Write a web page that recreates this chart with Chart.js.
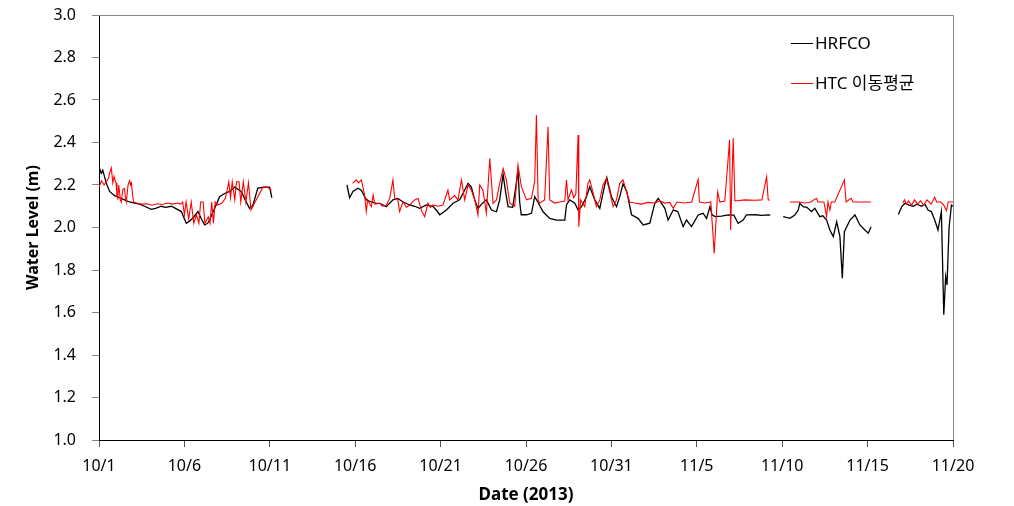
<!DOCTYPE html>
<html>
<head>
<meta charset="utf-8">
<script src="https://cdn.jsdelivr.net/npm/chart.js@4.4.0/dist/chart.umd.min.js"></script>
<style>
  html, body { margin: 0; padding: 0; background: #fff; }
  #wrap { width: 1014px; height: 506px; }
</style>
</head>
<body>
<div id="wrap"><canvas id="levelChart" width="1014" height="506"></canvas></div>
<script>
  // Hourly water levels, thinned by eye. x = days after 10/1, y = level (m).
  // [day, null] breaks the line where the record has gaps.
  var hrfco = [
    [0.00,2.285],[0.13,2.255],[0.22,2.27],[0.42,2.21],[0.62,2.17],[0.91,2.15],[1.20,2.14],[1.49,2.13],[1.79,2.12],[2.08,2.115],
    [2.37,2.11],[2.67,2.10],[3.06,2.085],[3.31,2.09],[3.64,2.10],[3.90,2.095],[4.23,2.10],[4.48,2.09],[4.82,2.075],[4.95,2.05],
    [5.11,2.02],[5.30,2.03],[5.50,2.045],[5.79,2.075],[6.00,2.04],[6.18,2.012],[6.36,2.02],[6.47,2.035],[6.77,2.09],[7.06,2.145],
    [7.35,2.16],[7.65,2.17],[7.94,2.19],[8.33,2.17],[8.62,2.12],[8.82,2.09],[9.01,2.105],[9.30,2.185],[9.69,2.19],[9.99,2.19],[10.12,2.14],
    [10.3,null],
    [14.52,2.20],[14.67,2.14],[14.87,2.17],[15.16,2.185],[15.36,2.175],[15.65,2.13],[15.95,2.12],[16.20,2.115],[16.43,2.114],[16.82,2.098],
    [17.21,2.13],[17.50,2.137],[17.80,2.12],[18.19,2.106],[18.48,2.10],[18.78,2.09],[19.17,2.106],[19.56,2.098],[19.77,2.08],[19.95,2.06],
    [20.34,2.082],[20.73,2.114],[21.12,2.13],[21.41,2.176],[21.61,2.208],[21.80,2.19],[22.00,2.13],[22.19,2.09],[22.40,2.11],[22.68,2.13],
    [22.98,2.082],[23.27,2.074],[23.46,2.13],[23.66,2.25],[23.80,2.17],[23.95,2.098],[24.22,2.095],[24.40,2.19],[24.53,2.27],[24.63,2.12],[24.72,2.06],
    [25.03,2.06],[25.32,2.067],[25.51,2.145],[25.69,2.12],[26.00,2.074],[26.39,2.043],[26.78,2.035],[27.27,2.035],[27.37,2.106],[27.56,2.13],
    [27.86,2.114],[28.05,2.082],[28.25,2.098],[28.54,2.145],[28.73,2.192],[29.03,2.13],[29.32,2.09],[29.61,2.20],[29.73,2.235],[30.00,2.145],
    [30.30,2.098],[30.49,2.145],[30.68,2.205],[30.90,2.17],[31.18,2.06],[31.56,2.043],[31.86,2.012],[32.25,2.02],[32.54,2.114],[32.74,2.137],
    [33.13,2.09],[33.32,2.035],[33.62,2.082],[33.89,2.075],[34.20,2.004],[34.40,2.035],[34.69,2.004],[35.08,2.059],[35.37,2.067],[35.57,2.043],
    [35.77,2.098],[35.89,2.06],[36.07,2.051],[36.45,2.054],[36.84,2.059],[37.17,2.058],[37.42,2.02],[37.71,2.035],[37.91,2.059],[38.40,2.06],
    [38.81,2.057],[39.18,2.059],[39.30,2.058],
    [39.6,null],
    [40.06,2.051],[40.45,2.043],[40.74,2.059],[40.94,2.082],[41.03,2.114],[41.22,2.098],[41.44,2.095],[41.72,2.075],[41.91,2.09],[42.20,2.051],
    [42.38,2.055],[42.60,2.035],[42.79,1.988],[42.99,1.957],[43.19,2.027],[43.38,1.957],[43.52,1.761],[43.64,1.98],[43.97,2.035],[44.26,2.059],
    [44.55,2.012],[44.84,1.988],[45.04,1.973],[45.20,2.004],
    [45.5,null],
    [46.80,2.061],[47.00,2.098],[47.19,2.114],[47.42,2.105],[47.67,2.10],[47.89,2.11],[48.16,2.10],[48.35,2.11],[48.54,2.082],[48.73,2.075],
    [48.93,2.035],[49.12,1.988],[49.32,2.075],[49.46,1.59],[49.57,1.77],[49.65,1.73],[49.77,2.0],[49.91,2.106],[50.00,2.10]
  ];

  var htc = [
    [0.00,2.19],[0.15,2.22],[0.30,2.20],[0.42,2.215],[0.55,2.23],[0.62,2.255],[0.72,2.28],[0.81,2.21],[0.88,2.24],[0.95,2.22],
    [1.00,2.21],[1.05,2.15],[1.10,2.137],[1.15,2.20],[1.20,2.17],[1.25,2.13],[1.30,2.12],[1.40,2.18],[1.49,2.184],[1.55,2.14],
    [1.60,2.12],[1.70,2.20],[1.79,2.22],[1.85,2.20],[1.90,2.21],[1.97,2.15],[2.03,2.12],[2.20,2.115],[2.50,2.11],[2.80,2.112],
    [3.10,2.105],[3.40,2.112],[3.70,2.108],[4.00,2.115],[4.30,2.11],[4.60,2.115],[4.80,2.11],[4.90,2.12],[5.00,2.06],[5.10,2.12],
    [5.25,2.04],[5.40,2.12],[5.55,2.02],[5.70,2.06],[5.85,2.02],[5.95,2.12],[6.10,2.12],[6.20,2.02],[6.40,2.05],[6.50,2.02],
    [6.60,2.12],[6.70,2.02],[6.80,2.12],[6.95,2.106],[7.20,2.115],[7.40,2.137],[7.60,2.215],[7.70,2.14],[7.80,2.215],[7.95,2.13],
    [8.05,2.215],[8.20,2.215],[8.30,2.12],[8.45,2.215],[8.60,2.12],[8.75,2.21],[8.90,2.082],[9.10,2.114],[9.30,2.145],[9.60,2.19],
    [9.85,2.19],[10.10,2.175],
    [10.3,null],
    [14.85,2.208],[15.07,2.224],[15.20,2.21],[15.36,2.224],[15.55,2.153],[15.65,2.075],[15.73,2.13],[15.95,2.098],[16.05,2.153],[16.15,2.11],
    [16.43,2.114],[16.60,2.10],[16.82,2.105],[17.02,2.137],[17.21,2.224],[17.31,2.137],[17.50,2.13],[17.60,2.075],[17.80,2.12],[18.00,2.095],
    [18.19,2.106],[18.48,2.13],[18.68,2.137],[18.88,2.08],[19.07,2.051],[19.26,2.114],[19.40,2.095],[19.56,2.106],[19.83,2.10],[20.14,2.106],
    [20.43,2.176],[20.53,2.13],[20.82,2.15],[21.02,2.13],[21.22,2.224],[21.41,2.13],[21.61,2.20],[21.80,2.176],[22.00,2.13],[22.19,2.059],
    [22.29,2.20],[22.48,2.176],[22.68,2.067],[22.88,2.326],[23.07,2.114],[23.27,2.13],[23.46,2.208],[23.66,2.278],[23.85,2.224],[24.05,2.114],
    [24.34,2.10],[24.53,2.294],[24.73,2.192],[25.03,2.13],[25.32,2.137],[25.51,2.216],[25.61,2.529],[25.71,2.13],[25.80,2.114],[26.09,2.13],
    [26.29,2.474],[26.39,2.13],[26.68,2.115],[26.97,2.12],[27.27,2.125],[27.37,2.224],[27.46,2.13],[27.66,2.176],[27.80,2.14],[27.92,2.16],
    [28.05,2.435],[28.09,2.004],[28.20,2.13],[28.44,2.098],[28.63,2.208],[28.73,2.224],[28.91,2.17],[29.12,2.098],[29.32,2.13],[29.51,2.20],
    [29.71,2.23],[29.90,2.17],[30.10,2.098],[30.30,2.13],[30.49,2.208],[30.68,2.224],[30.88,2.17],[31.07,2.12],[31.36,2.115],[31.76,2.11],
    [32.13,2.118],[32.54,2.115],[32.83,2.125],[33.13,2.115],[33.42,2.118],[33.62,2.09],[33.84,2.12],[34.30,2.115],[34.70,2.12],[35.08,2.227],
    [35.15,2.12],[35.47,2.115],[35.82,2.12],[36.02,1.878],[36.22,2.168],[36.35,2.12],[36.64,2.125],[36.92,2.412],[36.98,1.988],[37.13,2.42],
    [37.23,2.125],[37.81,2.13],[38.40,2.128],[38.81,2.13],[39.09,2.239],[39.18,2.13],[39.28,2.128],
    [39.6,null],
    [40.45,2.12],[41.03,2.12],[41.32,2.115],[41.61,2.118],[42.01,2.137],[42.09,2.12],[42.44,2.12],[42.60,2.051],[42.68,2.12],[42.79,2.082],
    [42.88,2.12],[43.08,2.12],[43.64,2.224],[43.74,2.12],[44.04,2.137],[44.15,2.12],[45.20,2.12],
    [45.5,null],
    [47.06,2.114],[47.16,2.13],[47.27,2.11],[47.39,2.125],[47.57,2.105],[47.75,2.13],[47.92,2.11],[48.11,2.125],[48.28,2.105],[48.48,2.13],
    [48.72,2.11],[48.93,2.142],[49.04,2.12],[49.28,2.12],[49.46,2.105],[49.62,2.08],[49.72,2.12],[50.00,2.12]
  ];

  var dateLabels = ["10/1", "10/6", "10/11", "10/16", "10/21", "10/26", "10/31", "11/5", "11/10", "11/15", "11/20"];

  var FONT = "'Noto Sans', 'Noto Sans CJK KR', sans-serif";
  var FRAME = "#868686";

  function toXY(list) {
    return list.map(function (p) { return { x: p[0], y: p[1] }; });
  }

  // Excel-style plot frame: grey top and right edges.
  var framePlugin = {
    id: "frame",
    beforeDatasetsDraw: function (chart) {
      var a = chart.chartArea, ctx = chart.ctx;
      ctx.save();
      ctx.strokeStyle = FRAME;
      ctx.lineWidth = 1;
      ctx.beginPath();
      ctx.moveTo(a.left, a.top + 0.5);
      ctx.lineTo(a.right + 0.5, a.top + 0.5);
      ctx.lineTo(a.right + 0.5, a.bottom);
      ctx.stroke();
      ctx.restore();
    }
  };

  // Legend inside the plot, upper right.
  var legendPlugin = {
    id: "insideLegend",
    afterDatasetsDraw: function (chart) {
      var ctx = chart.ctx;
      var items = [chart.data.datasets[1], chart.data.datasets[0]];
      var rows = [43.5, 83.5];
      ctx.save();
      ctx.font = "17px " + FONT;
      ctx.textBaseline = "middle";
      ctx.fillStyle = "#000";
      items.forEach(function (ds, i) {
        ctx.strokeStyle = ds.borderColor;
        ctx.lineWidth = 1;
        ctx.beginPath();
        ctx.moveTo(791, rows[i]);
        ctx.lineTo(813, rows[i]);
        ctx.stroke();
        ctx.fillText(ds.label, 815, rows[i] + 1);
      });
      ctx.restore();
    }
  };

  Chart.defaults.color = "#000";

  new Chart(document.getElementById("levelChart").getContext("2d"), {
    type: "line",
    data: {
      datasets: [
        { label: "HTC 이동평균", data: toXY(htc), borderColor: "#ff0000", borderWidth: 1.1, order: 0 },
        { label: "HRFCO", data: toXY(hrfco), borderColor: "#000000", borderWidth: 1.3, order: 1 }
      ]
    },
    options: {
      responsive: false,
      animation: false,
      spanGaps: false,
      layout: { padding: { left: 0, right: 61, top: 15, bottom: 0 } },
      elements: { point: { radius: 0 }, line: { tension: 0 } },
      plugins: { legend: { display: false }, tooltip: { enabled: false } },
      scales: {
        x: {
          type: "linear",
          min: 0,
          max: 50,
          afterFit: function (s) { s.height = 66; },
          grid: { drawOnChartArea: false, drawTicks: true, tickLength: 7, color: "#555" },
          border: { display: true, color: "#000", width: 1 },
          ticks: {
            stepSize: 5, autoSkip: false, maxRotation: 0, padding: 10,
            font: { family: FONT, size: 16 },
            callback: function (v) { return dateLabels[Math.round(v / 5)]; }
          },
          title: {
            display: true, text: "Date (2013)",
            font: { family: FONT, size: 17, weight: "bold" },
            padding: { top: 0, bottom: 1 }
          }
        },
        y: {
          min: 1.0,
          max: 3.0,
          afterFit: function (s) { s.width = 99; s.paddingTop = 0; s.paddingBottom = 0; },
          grid: { drawOnChartArea: false, drawTicks: true, tickLength: 7, color: FRAME },
          border: { display: true, color: "#000", width: 1 },
          ticks: {
            stepSize: 0.2, autoSkip: false, padding: 16,
            font: { family: FONT, size: 16 },
            callback: function (v) { return v.toFixed(1); }
          },
          title: {
            display: true, text: "Water Level (m)",
            font: { family: FONT, size: 16, weight: "bold" },
            padding: { top: 24, bottom: 0 }
          }
        }
      }
    },
    plugins: [framePlugin, legendPlugin]
  });
</script>
</body>
</html>
